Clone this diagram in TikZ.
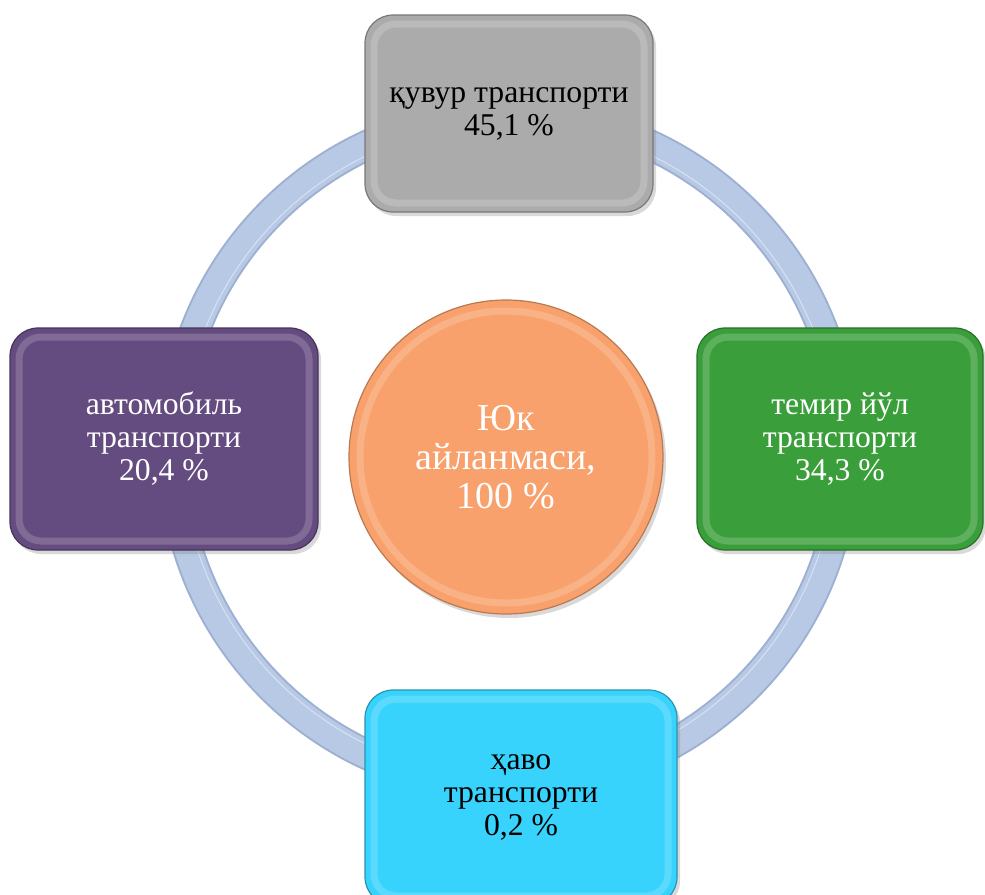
\documentclass[tikz,border=0pt]{standalone}
\usepackage{fontspec}
\setmainfont{Liberation Serif}
\usetikzlibrary{shadows}
\definecolor{ringc}{HTML}{B8C9E5}
\definecolor{ringe}{HTML}{9DB0D2}
\definecolor{grayc}{HTML}{ABABAB}
\definecolor{purplec}{HTML}{644B80}
\definecolor{greenc}{HTML}{3A9F3A}
\definecolor{cyanc}{HTML}{38D3FD}
\definecolor{orangec}{HTML}{F8A16C}
\tikzset{
  bevelbox/.style={rectangle, rounded corners=28pt, fill=#1, draw=#1!70!black,
    line width=1.2pt, inner sep=0pt, outer sep=0pt, align=center,
    font=\fontsize{31.7}{33}\selectfont,
    drop shadow={opacity=0.3, shadow xshift=3pt, shadow yshift=-4pt},
    path picture={\draw[white, opacity=0.18, line width=7pt, rounded corners=22pt]
      ([shift={(9pt,-9pt)}]path picture bounding box.north west) rectangle
      ([shift={(-9pt,9pt)}]path picture bounding box.south east);}},
  hubstyle/.style={circle, fill=orangec, draw=orangec!75!black, line width=1.2pt,
    inner sep=0pt, outer sep=0pt, minimum size=314pt, align=center,
    font=\fontsize{38}{39}\selectfont, text=white,
    drop shadow={opacity=0.3, shadow xshift=3pt, shadow yshift=-4pt},
    path picture={\draw[white, opacity=0.18, line width=7pt]
      (path picture bounding box.center) circle[radius=146pt];}},
}
\begin{document}
\begin{tikzpicture}[x=1pt,y=-1pt]
\useasboundingbox (0,0) rectangle (985,894);
\clip (0,0) rectangle (985,894);
\coordinate (rc) at (509,450);
\draw[ringe, line width=31pt] (rc) circle[radius=336pt];
\draw[ringc, line width=27pt] (rc) circle[radius=336pt];
\draw[white, opacity=0.45, line width=1pt] (rc) circle[radius=327pt];
\node[hubstyle] (hub) at (506,457) {Юк\\айланмаси,\\100 \%};
\node[bevelbox=grayc, minimum width=288pt, minimum height=197pt, text=black] (pipe) at (509,113.5) {қувур транспорти\\45,1 \%};
\node[bevelbox=purplec, minimum width=308pt, minimum height=222pt, text=white] (auto) at (164,439) {автомобиль\\транспорти\\20,4 \%};
\node[bevelbox=greenc, minimum width=286pt, minimum height=222pt, text=white] (rail) at (840,439) {темир йўл\\транспорти\\34,3 \%};
\node[bevelbox=cyanc, minimum width=312pt, minimum height=215pt, text=black] (air) at (521,797.5) {ҳаво\\транспорти\\0,2 \%};
\end{tikzpicture}
\end{document}
